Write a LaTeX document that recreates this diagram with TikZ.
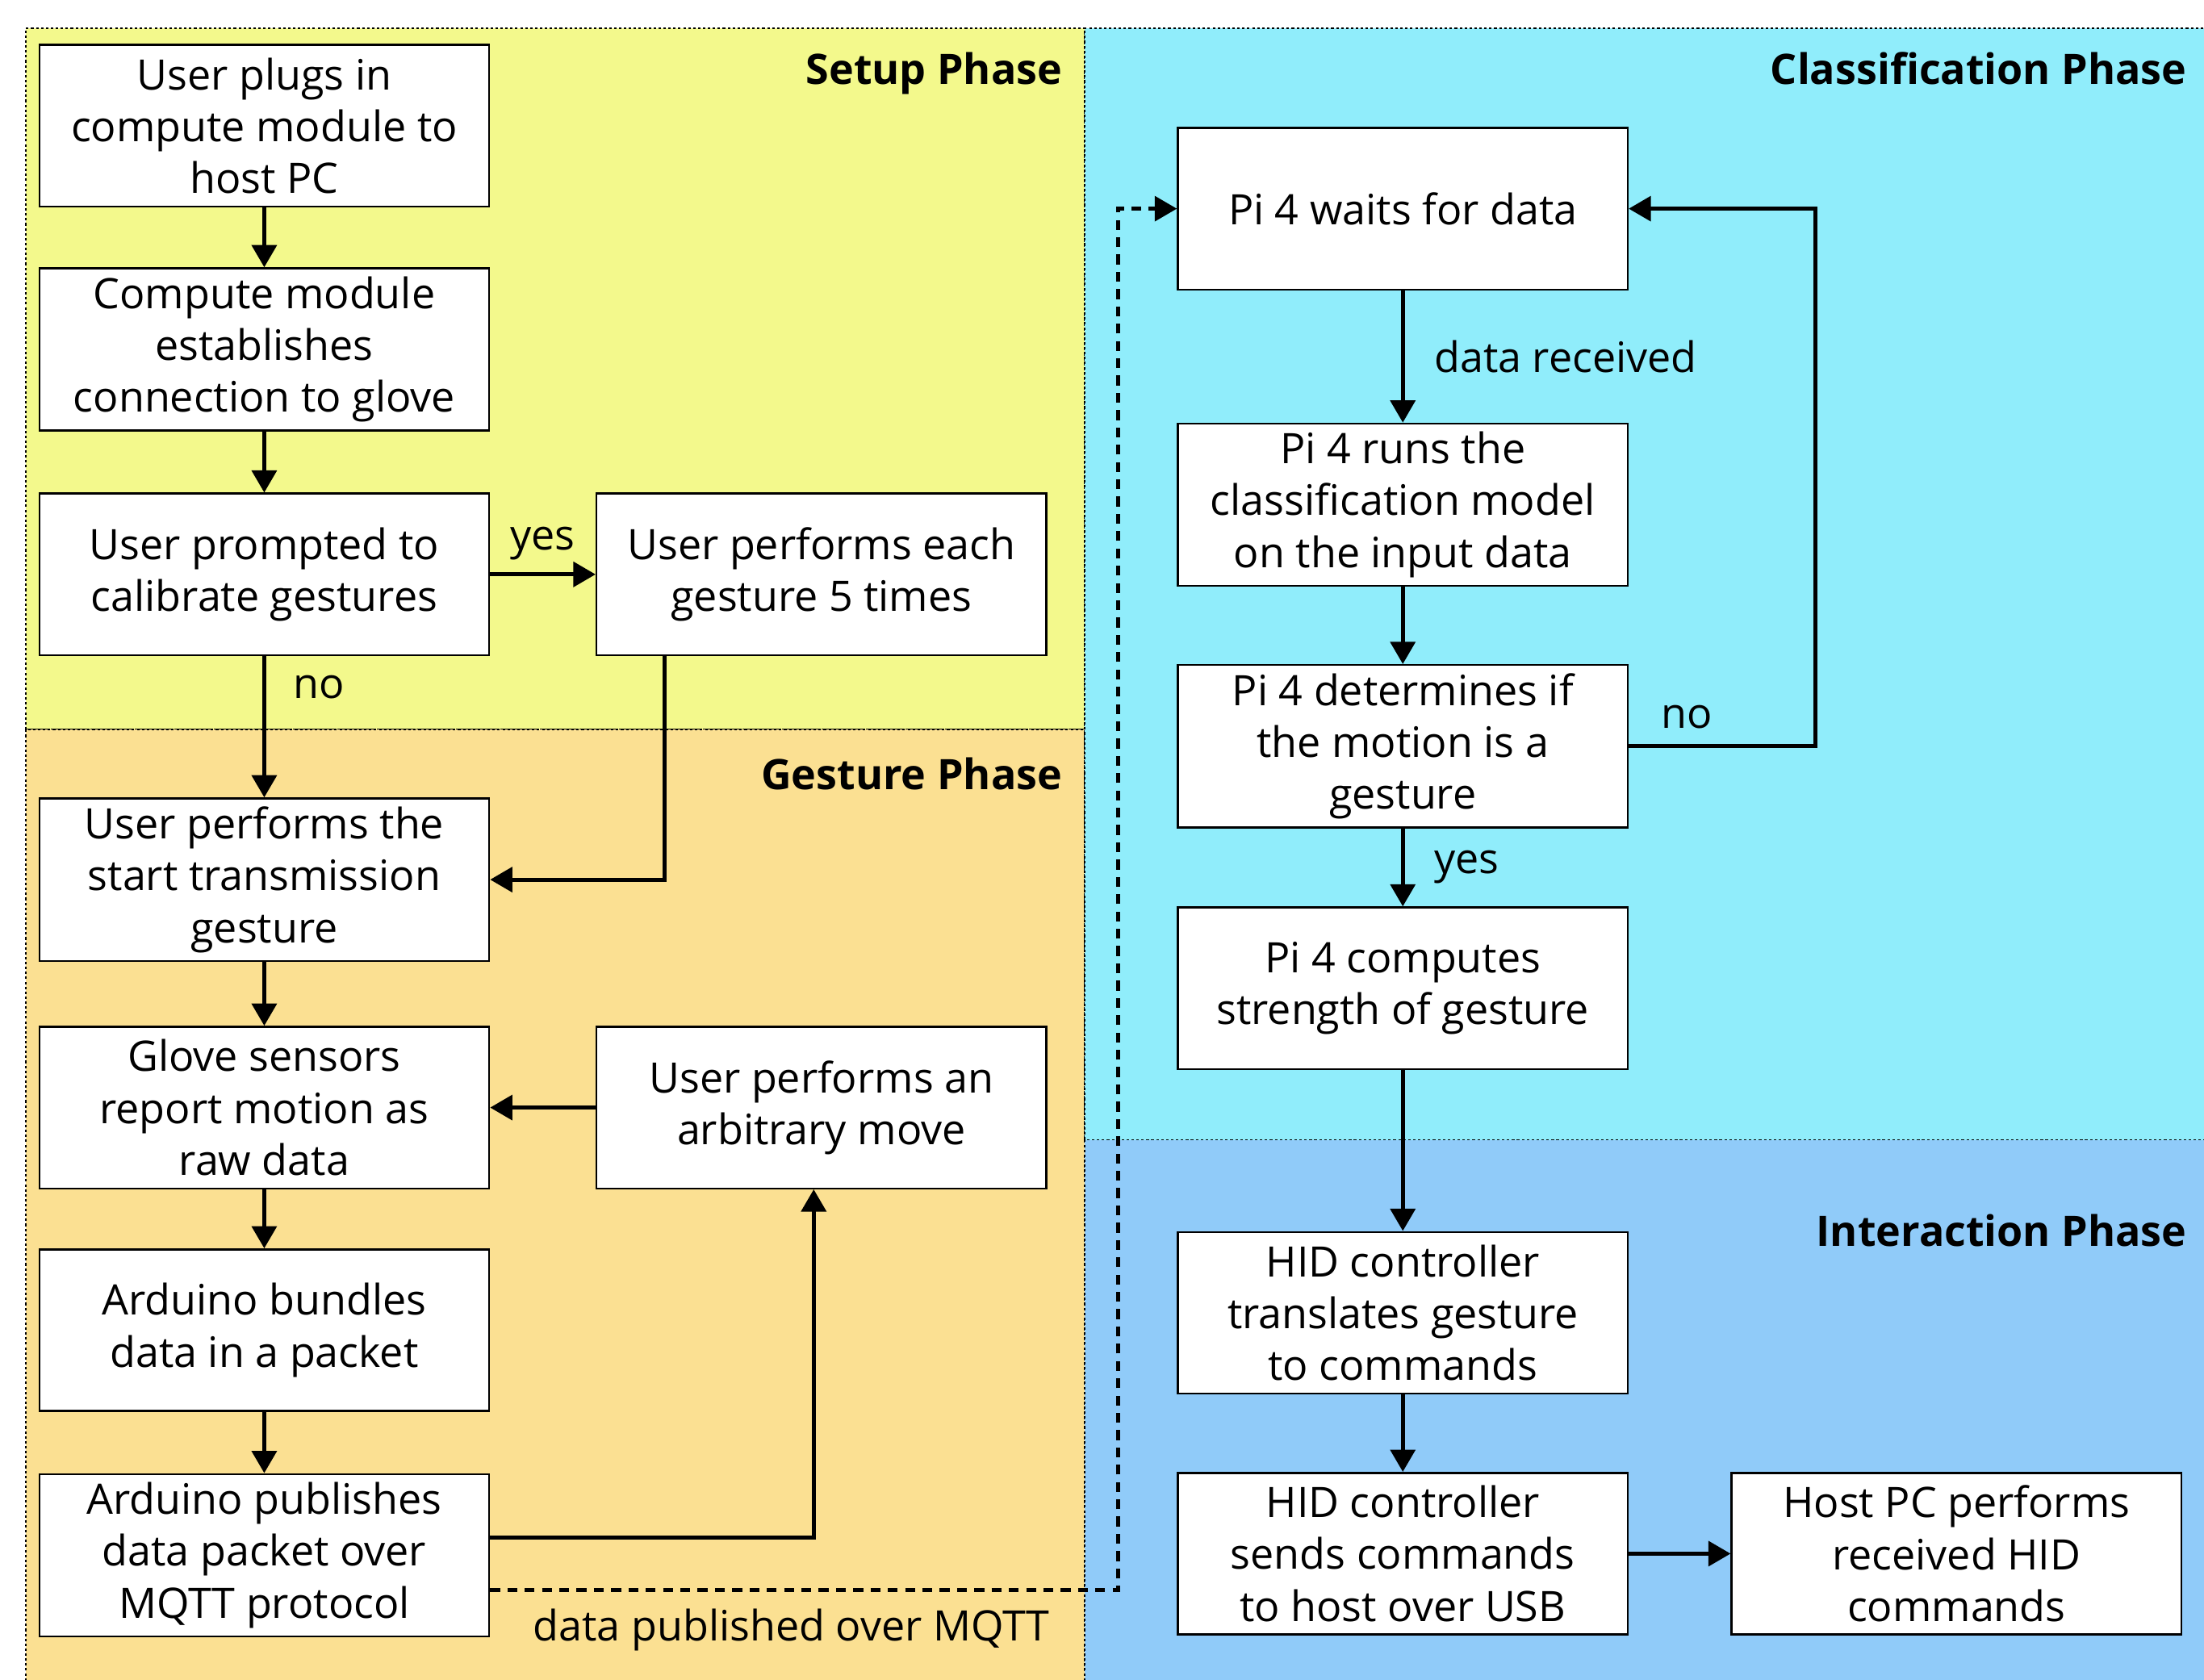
\documentclass[tikz,border=0pt]{standalone}
\usepackage{fontspec}
\setmainfont{Open Sans}
\usetikzlibrary{positioning, arrows.meta}

\definecolor{setupyellow}{RGB}{243,249,140}
\definecolor{gestureorange}{RGB}{251,224,146}
\definecolor{classcyan}{RGB}{144,237,251}
\definecolor{interblue}{RGB}{144,203,249}

\begin{document}
\begin{tikzpicture}[
    font=\fontsize{17}{21}\selectfont,
    node distance=0.85cm and 1.5cm,
    block/.style={rectangle, draw, fill=white, line width=0.8pt,
                  minimum width=6.4cm, minimum height=2.3cm, align=center},
    arrow/.style={-{Triangle[length=9pt, width=10pt]}, line width=1.6pt},
    mqtt/.style={arrow, dash pattern=on 4pt off 3pt},
    zone/.style={draw, line width=0.5pt, dash pattern=on 1pt off 1pt},
    phase/.style={font=\fontsize{17}{21}\selectfont\bfseries, anchor=base east, inner sep=0pt},
    edgetxt/.style={inner sep=0pt}
]
\useasboundingbox (0,0) rectangle (31.36,23.9);
\fill[white] (0,0) rectangle (31.36,23.9);
\clip (0,0) rectangle (31.36,23.9);
% --- Phases ---
\draw[zone, fill=setupyellow] (0.37,13.52) rectangle (15.43,23.5);
\draw[zone, fill=gestureorange] (0.37,-1) rectangle (15.43,13.52);
\draw[zone, fill=classcyan] (15.43,7.68) rectangle (33,23.5);
\draw[zone, fill=interblue] (15.43,-1) rectangle (33,7.68);
\node[phase] (setuptitle) at (15.12,22.7) {Setup Phase};
\node[phase] (gesturetitle) at (15.12,12.66) {Gesture Phase};
\node[phase] (classtitle) at (31.12,22.7) {Classification Phase};
\node[phase] (intertitle) at (31.12,6.17) {Interaction Phase};
% --- Setup phase ---
\node[block] (plug) at (3.76,22.11) {User plugs in\\compute module to\\host PC};
\node[block, below=of plug] (connect) {Compute module\\establishes\\connection to glove};
\node[block, below=0.87cm of connect] (prompt) {User prompted to\\calibrate gestures};
\node[block, right=of prompt] (calib) {User performs each\\gesture 5 times};
% --- Gesture phase ---
\node[block, below=2.01cm of prompt] (starttx) {User performs the\\start transmission\\gesture};
\node[block, below=0.91cm of starttx] (sensors) {Glove sensors\\report motion as\\raw data};
\node[block, right=of sensors] (arbmove) {User performs an\\arbitrary move};
\node[block, below=0.84cm of sensors] (bundle) {Arduino bundles\\data in a packet};
\node[block, below=0.87cm of bundle] (publish) {Arduino publishes\\data packet over\\MQTT protocol};
% --- Classification phase ---
\node[block] (waits) at (19.96,20.93) {Pi 4 waits for data};
\node[block, below=1.88cm of waits] (runs) {Pi 4 runs the\\classification model\\on the input data};
\node[block, below=1.1cm of runs] (determine) {Pi 4 determines if\\the motion is a\\gesture};
\node[block, below=1.11cm of determine] (strength) {Pi 4 computes\\strength of gesture};
% --- Interaction phase ---
\node[block, below=2.29cm of strength] (translate) {HID controller\\translates gesture\\to commands};
\node[block, below=1.1cm of translate] (sendcmd) {HID controller\\sends commands\\to host over USB};
\node[block, right=1.45cm of sendcmd] (hostpc) {Host PC performs\\received HID\\commands};
% --- Flechas ---
\foreach \a/\b in {plug/connect, connect/prompt, starttx/sensors, sensors/bundle,
                   bundle/publish, arbmove/sensors, runs/determine,
                   strength/translate, translate/sendcmd, sendcmd/hostpc}
    \draw[arrow] (\a) -- (\b);
\draw[arrow] (prompt) -- node[edgetxt, above=0.18cm] {yes} (calib);
\draw[arrow] (prompt) -- node[edgetxt, right=0.39cm, pos=0.22] {no} (starttx);
\draw[arrow] ([xshift=0.98cm]calib.south west) |- (starttx.east);
\draw[arrow] ([yshift=0.25cm]publish.east) -| ([xshift=-0.11cm]arbmove.south);
\draw[mqtt] ([yshift=-0.5cm]publish.east) -| node[edgetxt, below=0.24cm, pos=0.24] {data published over MQTT}
    ([xshift=-0.84cm]waits.west) -- (waits.west);
\draw[arrow] (waits) -- node[edgetxt, right=0.42cm] {data received} (runs);
\draw[arrow] (determine) -- node[edgetxt, right=0.42cm] {yes} (strength);
\draw[arrow] (determine.east) -| node[edgetxt, above=0.22cm, pos=0.155] {no}
    ([xshift=2.66cm]waits.east) -- (waits.east);
\end{tikzpicture}
\end{document}
